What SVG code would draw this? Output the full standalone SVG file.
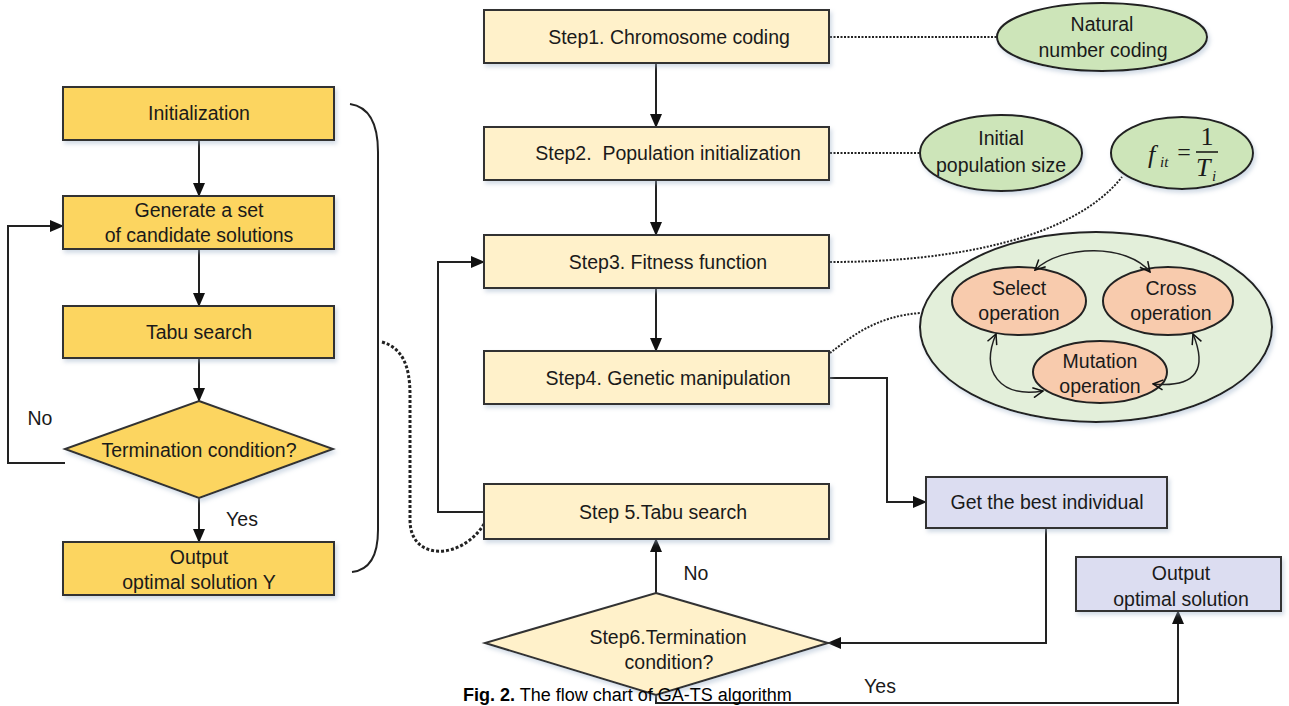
<svg xmlns="http://www.w3.org/2000/svg" width="1289" height="706" viewBox="0 0 1289 706">
<style>
  text { font-family: "Liberation Sans", Arial, sans-serif; font-size: 19.5px; fill: #1a1a1a; text-anchor: middle; }
  .lbox { fill: #FCD560; stroke: #333; stroke-width: 2; }
  .mbox { fill: #FFF1CA; stroke: #333; stroke-width: 2; }
  .bbox { fill: #DCDDF1; stroke: #333; stroke-width: 2; }
  .gell { fill: #CDE5B9; stroke: #222; stroke-width: 2; }
  .bigell { fill: #E3EFDA; stroke: #222; stroke-width: 2; }
  .oell { fill: #F8CBAD; stroke: #222; stroke-width: 2; }
  .line { fill: none; stroke: #222; stroke-width: 2; }
  .dot { fill: none; stroke: #222; stroke-width: 2; stroke-dasharray: 2 1.5; }
  .dotb { fill: none; stroke: #222; stroke-width: 3; stroke-dasharray: 3 2; }
  .thin { fill: none; stroke: #222; stroke-width: 1.5; }
  .math { font-family: "Liberation Serif", "Times New Roman", serif; font-style: italic; font-size: 26px; }
  .cap { font-family: "Liberation Sans", Arial, sans-serif; font-size: 18px; text-anchor: start; fill: #000; }
</style>
<defs>
  <marker id="arr" markerUnits="userSpaceOnUse" markerWidth="14" markerHeight="14" viewBox="0 0 14 14" refX="13" refY="7" orient="auto">
    <path d="M0,1 L14,7 L0,13 Z" fill="#111"/>
  </marker>
  <marker id="open" markerUnits="userSpaceOnUse" markerWidth="12" markerHeight="12" viewBox="0 0 12 12" refX="11" refY="6" orient="auto-start-reverse">
    <path d="M1,1 L11,6 L1,11" fill="none" stroke="#111" stroke-width="1.5"/>
  </marker>
  <filter id="sh" x="-5%" y="-5%" width="115%" height="130%">
    <feDropShadow dx="2" dy="3" stdDeviation="2" flood-color="#9bb0c8" flood-opacity="0.45"/>
  </filter>
</defs>

<g id="connectors">
  <line class="line" x1="199" y1="140" x2="199" y2="196" marker-end="url(#arr)"/>
  <line class="line" x1="199" y1="249" x2="199" y2="306" marker-end="url(#arr)"/>
  <line class="line" x1="199" y1="358" x2="199" y2="401" marker-end="url(#arr)"/>
  <line class="line" x1="199" y1="498" x2="199" y2="542" marker-end="url(#arr)"/>
  <polyline class="line" points="65,463 8,463 8,226 63,226" marker-end="url(#arr)"/>
  <path class="line" d="M350,104 C370,107 378,125 378,152 L378,530 C378,556 370,570 352,572"/>
  <path class="dotb" d="M382,342 C402,348 410,365 410,395 L410,520 C410,562 462,560 484,524"/>
  <line class="line" x1="656" y1="63" x2="656" y2="127" marker-end="url(#arr)"/>
  <line class="line" x1="656" y1="180" x2="656" y2="235" marker-end="url(#arr)"/>
  <line class="line" x1="656" y1="288" x2="656" y2="351" marker-end="url(#arr)"/>
  <polyline class="line" points="484,512 438,512 438,262 484,262" marker-end="url(#arr)"/>
  <line class="line" x1="656" y1="593" x2="656" y2="539" marker-end="url(#arr)"/>
  <polyline class="line" points="829,378 887,378 887,502 926,502" marker-end="url(#arr)"/>
  <polyline class="line" points="1046,528 1046,643 828,643" marker-end="url(#arr)"/>
  <polyline class="line" points="656,695 656,703 1178,703 1178,611" marker-end="url(#arr)"/>
  <line class="dot" x1="830" y1="37" x2="997" y2="37"/>
  <line class="dot" x1="830" y1="153" x2="920" y2="153"/>
  <path class="dot" d="M830,262 C950,262 1072,240 1122,177"/>
  <path class="dot" d="M830,353 C850,338 875,316 921,313"/>
</g>

<g id="n-init"><rect class="lbox" x="63" y="87" width="271" height="53" filter="url(#sh)"/><text x="199" y="120">Initialization</text></g>
<g id="n-generate"><rect class="lbox" x="63" y="196" width="271" height="53" filter="url(#sh)"/><text x="199" y="217">Generate a set</text><text x="199" y="242">of candidate solutions</text></g>
<g id="n-tabu"><rect class="lbox" x="63" y="306" width="271" height="52" filter="url(#sh)"/><text x="199" y="339">Tabu search</text></g>
<g id="n-term"><polygon class="lbox" points="199,401 333,449 199,498 65,449" filter="url(#sh)"/><text x="199" y="457">Termination condition?</text></g>
<g id="n-output-y"><rect class="lbox" x="63" y="542" width="271" height="53" filter="url(#sh)"/><text x="199" y="564">Output</text><text x="199" y="589">optimal solution Y</text></g>
<g id="l-no1"><text x="40" y="425">No</text></g>
<g id="l-yes1"><text x="242" y="526">Yes</text></g>

<g id="n-step1"><rect class="mbox" x="484" y="10" width="345" height="53" filter="url(#sh)"/><text x="669" y="44">Step1. Chromosome coding</text></g>
<g id="n-step2"><rect class="mbox" x="484" y="127" width="345" height="53" filter="url(#sh)"/><text x="668" y="160" xml:space="preserve">Step2.  Population initialization</text></g>
<g id="n-step3"><rect class="mbox" x="484" y="235" width="345" height="53" filter="url(#sh)"/><text x="668" y="269">Step3. Fitness function</text></g>
<g id="n-step4"><rect class="mbox" x="484" y="351" width="345" height="53" filter="url(#sh)"/><text x="668" y="385">Step4. Genetic manipulation</text></g>
<g id="n-step5"><rect class="mbox" x="484" y="484" width="345" height="55" filter="url(#sh)"/><text x="663" y="519">Step 5.Tabu search</text></g>
<g id="n-step6"><polygon class="mbox" points="656,593 828,643 656,695 485,643" filter="url(#sh)"/><text x="668" y="644">Step6.Termination</text><text x="669" y="669">condition?</text></g>
<g id="l-no2"><text x="696" y="580">No</text></g>
<g id="l-yes2"><text x="880" y="693">Yes</text></g>

<g id="n-best"><rect class="bbox" x="926" y="477" width="241" height="51" filter="url(#sh)"/><text x="1047" y="509">Get the best individual</text></g>
<g id="n-output"><rect class="bbox" x="1076" y="557" width="205" height="54" filter="url(#sh)"/><text x="1181" y="580">Output</text><text x="1181" y="606">optimal solution</text></g>

<g id="n-natural"><ellipse class="gell" cx="1102" cy="37" rx="105" ry="34" filter="url(#sh)"/><text x="1102" y="31">Natural</text><text x="1103" y="57">number coding</text></g>
<g id="n-initpop"><ellipse class="gell" cx="1001" cy="153" rx="81" ry="38" filter="url(#sh)"/><text x="1001" y="145">Initial</text><text x="1001" y="172">population size</text></g>
<g id="n-fitness"><ellipse class="gell" cx="1182" cy="153" rx="71" ry="36" filter="url(#sh)"/>
  <text class="math" x="1148" y="163" style="text-anchor:start">f</text>
  <text class="math" x="1160" y="167" style="text-anchor:start;font-size:15px">it</text>
  <text x="1184" y="160" style="font-family:'Liberation Serif',serif;font-size:24px">=</text>
  <line x1="1196" y1="152" x2="1218" y2="152" stroke="#111" stroke-width="1.5"/>
  <text x="1207" y="145" style="font-family:'Liberation Serif',serif;font-size:26px">1</text>
  <text class="math" x="1196" y="176" style="text-anchor:start">T</text>
  <text class="math" x="1212" y="181" style="text-anchor:start;font-size:15px">i</text>
</g>
<g id="n-genetic"><ellipse class="bigell" cx="1096" cy="327" rx="176" ry="95" filter="url(#sh)"/></g>
<g id="n-select"><ellipse class="oell" cx="1019" cy="301" rx="67" ry="34"/><text x="1019" y="295">Select</text><text x="1019" y="320">operation</text></g>
<g id="n-cross"><ellipse class="oell" cx="1168" cy="301" rx="65" ry="34"/><text x="1171" y="295">Cross</text><text x="1171" y="320">operation</text></g>
<g id="n-mutation"><ellipse class="oell" cx="1100" cy="372" rx="67" ry="31"/><text x="1100" y="368">Mutation</text><text x="1100" y="393">operation</text></g>
<g id="inner-connectors">
  <path class="thin" d="M1035,270 C1062,244 1128,244 1150,272" marker-start="url(#open)" marker-end="url(#open)"/>
  <path class="thin" d="M996,334 C980,372 1000,398 1043,391" marker-start="url(#open)" marker-end="url(#open)"/>
  <path class="thin" d="M1193,334 C1207,368 1198,388 1153,384" marker-start="url(#open)" marker-end="url(#open)"/>
</g>

<g id="caption"><text class="cap" x="463" y="701"><tspan font-weight="bold">Fig. 2.</tspan> The flow chart of GA-TS algorithm</text></g>
</svg>
